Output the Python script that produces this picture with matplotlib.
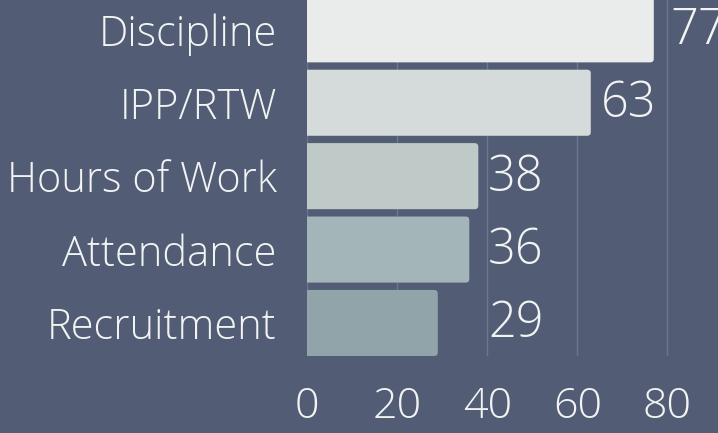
import matplotlib
matplotlib.use("Agg")
import matplotlib.pyplot as plt
from matplotlib.patches import FancyBboxPatch

categories = ["Recruitment", "Attendance", "Hours of Work", "IPP/RTW", "Discipline"]
values = [29, 36, 38, 63, 77]
bar_colors = ["#91a4aa", "#a4b5b9", "#bfcac8", "#d4dbda", "#e9ecea"]
xticks = [0, 20, 40, 60, 80]

BG = "#525d75"
TXT = "#f2f3f3"
GRID = "#6b768f"

plt.rcParams['font.family'] = ['Open Sans', 'DejaVu Sans']

fig = plt.figure(figsize=(7.18, 4.33), dpi=100, facecolor=BG)
W, H = 718, 433
left_px, right_px = 307.3, 718
bottom_px, top_px = 356, -3.7
ax = fig.add_axes([left_px / W, (H - bottom_px) / H, (right_px - left_px) / W, (bottom_px - top_px) / H])
ax.set_facecolor(BG)
ax.set_xlim(0, (right_px - left_px) / 4.5)
ax.set_ylim(-0.45, len(categories) - 0.55)

bar_h = 0.9
rx = 0.8
ry = 0.05
for i, (v, c) in enumerate(zip(values, bar_colors)):
    p = FancyBboxPatch((-2, i - bar_h / 2), v + 2, bar_h,
                       boxstyle=f"round,pad=0,rounding_size={rx}",
                       mutation_aspect=ry / rx,
                       facecolor=c, edgecolor='none', zorder=3)
    ax.add_patch(p)
    lx = max(v, 38) + 2.2
    if v >= 70:
        lx = v + 3.6
    ax.text(lx, i - 0.02, str(v), color=TXT, fontsize=35, fontweight=300,
            va='center', ha='left', zorder=4)

ax.set_xticks(xticks)
ax.set_xticklabels([str(t) for t in xticks])
ax.set_yticks(range(len(categories)))
ax.set_yticklabels(categories)
ax.tick_params(axis='x', length=0, pad=21, labelsize=31, labelcolor=TXT)
ax.tick_params(axis='y', length=0, pad=22, labelsize=30, labelcolor=TXT)
for lab in ax.get_xticklabels() + ax.get_yticklabels():
    lab.set_fontweight(300)
ax.grid(axis='x', color=GRID, linewidth=1, zorder=0)
ax.set_axisbelow(True)
for s in ax.spines.values():
    s.set_visible(False)

fig.savefig("out.png", dpi=100, facecolor=BG)
